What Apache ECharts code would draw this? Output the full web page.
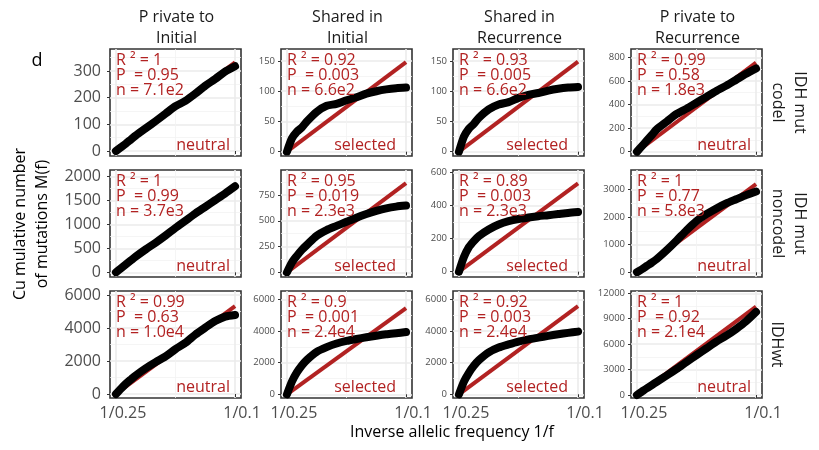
<!DOCTYPE html>
<html><head><meta charset="utf-8">
<script src="https://cdn.jsdelivr.net/npm/echarts@6/dist/echarts.min.js"></script>
<style>html,body{margin:0;padding:0;background:#fff}#c{width:819px;height:450px}</style>
</head><body><div id="c"></div>
<script>
// ---------- data ----------
const invFreq = [4, 4.25, 4.5, 4.75, 5, 5.5, 6, 6.5, 7, 7.5, 8, 8.5, 9, 9.5, 10];
const xTickValues = [4, 10];
const xTickLabels = ['1/0.25', '1/0.1'];
const xMinorValues = [7];

const colHeaders = ['P rivate to\nInitial', 'Shared in\nInitial', 'Shared in\nRecurrence', 'P rivate to\nRecurrence'];
const rowStrips = ['IDH mut\ncodel', 'IDH mut\nnoncodel', 'IDHwt'];

// cumulative number of mutations M(f), row-major panels
const codelPrivInit   = [0, 14, 28, 43, 58, 85, 112, 140, 168, 188, 215, 245, 270, 298, 318];
const codelShInit     = [0, 22, 33, 40, 50, 66, 76, 79, 85, 90, 96, 100, 103, 105, 106];
const codelShRec      = [0, 25, 38, 46, 56, 70, 78, 82, 89, 94, 97, 101, 104, 106, 107];
const codelPrivRec    = [0, 48, 95, 142, 190, 255, 320, 365, 415, 465, 515, 560, 610, 660, 705];
const noncodelPrivInit= [0, 82, 165, 248, 330, 480, 620, 770, 930, 1080, 1230, 1370, 1510, 1650, 1800];
const noncodelShInit  = [0, 95, 160, 218, 265, 355, 410, 450, 490, 530, 565, 595, 620, 637, 647];
const noncodelShRec   = [0, 88, 148, 185, 215, 255, 285, 305, 318, 327, 335, 341, 348, 355, 360];
const noncodelPrivRec = [0, 110, 230, 350, 480, 800, 1150, 1520, 1850, 2100, 2310, 2490, 2640, 2790, 2920];
const wtPrivInit      = [0, 320, 620, 880, 1130, 1560, 1930, 2280, 2720, 3100, 3600, 4020, 4420, 4690, 4790];
const wtShInit        = [0, 800, 1380, 1820, 2170, 2680, 2980, 3210, 3370, 3490, 3600, 3700, 3790, 3860, 3930];
const wtShRec         = [0, 800, 1360, 1800, 2150, 2650, 2950, 3150, 3330, 3470, 3580, 3690, 3790, 3880, 3960];
const wtPrivRec       = [0, 400, 800, 1170, 1550, 2300, 3080, 3900, 4700, 5500, 6300, 7000, 7800, 8700, 9800];

// neutral fit line end value at 1/f = 10 (starts at 0 at 1/f = 4)
const fitEnd = [332, 148, 149, 754, 1830, 864, 533, 3190, 5330, 5444, 5568, 10420];

const r2Labels = ['1', '0.92', '0.93', '0.99', '1', '0.95', '0.89', '1', '0.99', '0.9', '0.92', '1'];
const pLabels  = ['0.95', '0.003', '0.005', '0.58', '0.99', '0.019', '0.003', '0.77', '0.63', '0.001', '0.003', '0.92'];
const nLabels  = ['7.1e2', '6.6e2', '6.6e2', '1.8e3', '3.7e3', '2.3e3', '2.3e3', '5.8e3', '1.0e4', '2.4e4', '2.4e4', '2.1e4'];
const verdicts = ['neutral', 'selected', 'selected', 'neutral', 'neutral', 'selected', 'selected', 'neutral', 'neutral', 'selected', 'selected', 'neutral'];

const yTicks = [
  [0, 100, 200, 300], [0, 50, 100, 150], [0, 50, 100, 150], [0, 200, 400, 600, 800],
  [0, 500, 1000, 1500, 2000], [0, 250, 500, 750], [0, 200, 400, 600], [0, 1000, 2000, 3000],
  [0, 2000, 4000, 6000], [0, 2000, 4000, 6000], [0, 2000, 4000, 6000], [0, 3000, 6000, 9000, 12000]
];
const yRanges = [
  [-18.75, 382.5], [-7.1, 169.8], [-7.1, 169.8], [-36, 870],
  [-98, 2140], [-45, 992], [-32, 614], [-170, 3698],
  [-242, 6242], [-234, 6524], [-234, 6524], [-354, 12271]
];

const panelValues = [codelPrivInit, codelShInit, codelShRec, codelPrivRec,
  noncodelPrivInit, noncodelShInit, noncodelShRec, noncodelPrivRec,
  wtPrivInit, wtShInit, wtShRec, wtPrivRec];

// ---------- layout ----------
const colLeft = [110, 281, 453, 631];
const colWidth = 131;
const rowTop = [49, 170, 291];
const rowHeight = 107;
const xMin = 3.7, xMax = 10.3;
const FONT = '"Open Sans", "Noto Sans", sans-serif';
const RED = '#B22222';

const grids = [], xAxes = [], yAxes = [], series = [], graphics = [];

function minorOf(ticks, lo, hi) {
  const step = ticks[1] - ticks[0];
  const out = [];
  for (let v = ticks[0] - step / 2; v <= hi; v += step) if (v >= lo) out.push(v);
  return out;
}

panelValues.forEach((vals, i) => {
  const r = Math.floor(i / 4), c = i % 4;
  const left = colLeft[c], top = rowTop[r];
  grids.push({ left: left, top: top, width: colWidth, height: rowHeight, show: true,
    borderColor: '#333333', borderWidth: 1.6, backgroundColor: '#ffffff', containLabel: false });
  const big = c === 0;
  // main x axis
  xAxes.push({ type: 'value', gridIndex: i, min: xMin, max: xMax, position: 'bottom',
    axisLine: { show: false },
    axisTick: { show: true, length: 3, customValues: xTickValues, lineStyle: { color: '#333333', width: 1 } },
    axisLabel: { show: r === 2, customValues: xTickValues, margin: 7, color: '#4D4D4D', fontSize: 16, fontFamily: FONT,
      padding: [0, 0, 0, 14], formatter: v => xTickLabels[xTickValues.indexOf(v)] },
    splitLine: { show: true, lineStyle: { color: '#EBEBEB', width: 1.6 } } });
  // minor x grid
  xAxes.push({ type: 'value', gridIndex: i, min: xMin, max: xMax, position: 'top',
    axisLine: { show: false }, axisTick: { show: false, customValues: xMinorValues },
    axisLabel: { show: false, customValues: xMinorValues },
    splitLine: { show: true, lineStyle: { color: '#F2F2F2', width: 0.8 } } });
  const [ymin, ymax] = yRanges[i];
  yAxes.push({ type: 'value', gridIndex: i, min: ymin, max: ymax, position: 'left',
    axisLine: { show: false },
    axisTick: { show: true, length: 3, customValues: yTicks[i], lineStyle: { color: '#333333', width: 1 } },
    axisLabel: { show: true, customValues: yTicks[i], margin: big ? 9 : 6, color: '#4D4D4D',
      fontSize: big ? 16 : 9.5, fontFamily: FONT, formatter: v => String(v) },
    splitLine: { show: true, lineStyle: { color: '#EBEBEB', width: 1.6 } } });
  const ym = minorOf(yTicks[i], ymin, ymax);
  yAxes.push({ type: 'value', gridIndex: i, min: ymin, max: ymax, position: 'right',
    axisLine: { show: false }, axisTick: { show: false, customValues: ym },
    axisLabel: { show: false, customValues: ym },
    splitLine: { show: true, lineStyle: { color: '#F2F2F2', width: 0.8 } } });

  series.push({ type: 'line', xAxisIndex: 2 * i, yAxisIndex: 2 * i, z: 2, silent: true,
    symbol: 'none', data: [[invFreq[0], 0], [invFreq[invFreq.length - 1], fitEnd[i]]],
    lineStyle: { color: RED, width: 4 } });
  series.push({ type: 'line', xAxisIndex: 2 * i, yAxisIndex: 2 * i, z: 3, silent: true,
    symbol: 'none', smooth: 0.25, clip: false,
    data: invFreq.map((x, k) => [x, vals[k]]),
    lineStyle: { color: '#000000', width: 8, cap: 'round', join: 'round' } });

  // annotations
  graphics.push({ type: 'text', x: left + 6, y: top + 4, silent: true, z: 10,
    style: { text: 'R \u00B2 = ' + r2Labels[i] + '\nP  = ' + pLabels[i] + '\nn = ' + nLabels[i],
      font: '16px ' + FONT, fill: RED, align: 'left', verticalAlign: 'top', lineHeight: 15 } });
  const sel = verdicts[i] === 'selected';
  graphics.push({ type: 'text', x: left + colWidth - (sel ? 16 : 11), y: top + rowHeight - 11, silent: true, z: 10,
    style: { text: verdicts[i], font: '16px ' + FONT, fill: RED, align: 'right', verticalAlign: 'middle' } });
});

// column headers
colHeaders.forEach((t, c) => {
  graphics.push({ type: 'text', x: colLeft[c] + colWidth / 2 + 1, y: 27.5, silent: true,
    style: { text: t, font: '16px ' + FONT, fill: '#1A1A1A', align: 'center', verticalAlign: 'middle', lineHeight: 21 } });
});
// row strips
const stripX = [789, 789, 777];
rowStrips.forEach((t, r) => {
  graphics.push({ type: 'text', x: stripX[r], y: rowTop[r] + rowHeight / 2, rotation: -Math.PI / 2, silent: true,
    style: { text: t, font: '16px ' + FONT, fill: '#1A1A1A', align: 'center', verticalAlign: 'middle', lineHeight: 22 } });
});
// axis titles and panel letter
graphics.push({ type: 'text', x: 452, y: 432, silent: true,
  style: { text: 'Inverse allelic frequency 1/f', font: '16px ' + FONT, fill: '#000', align: 'center', verticalAlign: 'middle' } });
graphics.push({ type: 'text', x: 31, y: 224, rotation: Math.PI / 2, silent: true,
  style: { text: 'Cu mulative number\nof mutations M(f)', font: '16px ' + FONT, fill: '#000', align: 'center', verticalAlign: 'middle', lineHeight: 22 } });
graphics.push({ type: 'text', x: 37, y: 61, silent: true,
  style: { text: 'd', font: '18px ' + FONT, fill: '#000', align: 'center', verticalAlign: 'middle' } });

const chart = echarts.init(document.getElementById('c'), null, { renderer: 'canvas' });
chart.setOption({
  animation: false,
  backgroundColor: '#ffffff',
  grid: grids, xAxis: xAxes, yAxis: yAxes, series: series, graphic: graphics
});
</script></body></html>
